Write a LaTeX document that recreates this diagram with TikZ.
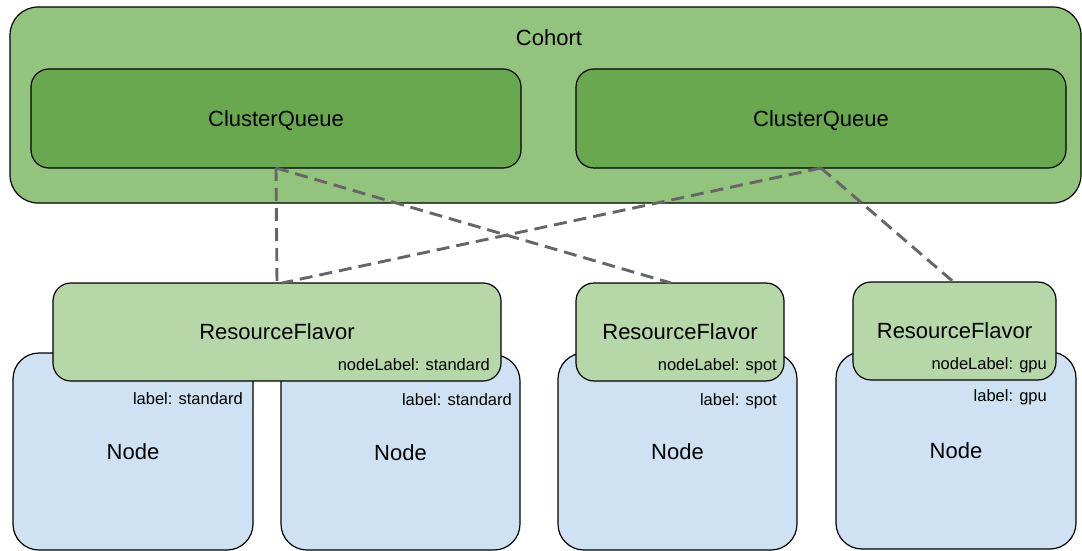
\documentclass[tikz,border=0pt]{standalone}
\usepackage{fontspec}
\setmainfont{Liberation Sans}

\definecolor{cohortgreen}{HTML}{93C47D}
\definecolor{queuegreen}{HTML}{6AA84F}
\definecolor{flavorgreen}{HTML}{B6D7A8}
\definecolor{nodeblue}{HTML}{CFE2F3}
\definecolor{linkgray}{HTML}{666666}

\begin{document}
\begin{tikzpicture}[x=1pt,y=-1pt,
  box/.style={draw=black, line width=1.2pt, inner sep=0pt, outer sep=0pt},
  cohortbox/.style={box, fill=cohortgreen, rounded corners=28pt},
  queuebox/.style={box, fill=queuegreen, rounded corners=18pt},
  flavorbox/.style={box, fill=flavorgreen, rounded corners=18pt},
  machine/.style={box, fill=nodeblue, rounded corners=26pt},
  bigtext/.style={font=\fontsize{22}{26}\selectfont, text depth=0pt},
  smalltext/.style={font=\fontsize{16.5}{20}\selectfont, inner sep=0pt, anchor=base east},
  link/.style={draw=linkgray, line width=2.9pt, dash pattern=on 13pt off 7pt}
]
\useasboundingbox (0,0) rectangle (1082,551);

% cohort with its two cluster queues
\node[cohortbox, minimum width=1071pt, minimum height=196pt] (cohort) at (545.5,105) {};
\node[bigtext] (cohortname) at (549,37.5) {Cohort};
\node[queuebox, bigtext, minimum width=490pt, minimum height=99pt] (cq1) at (276,118.5) {ClusterQueue};
\node[queuebox, bigtext, minimum width=490pt, minimum height=99pt] (cq2) at (821,118.5) {ClusterQueue};

% cluster nodes
\node[machine, bigtext, minimum width=240pt, minimum height=197pt] (n1) at (133,451.5) {Node};
\node[machine, bigtext, minimum width=239pt, minimum height=195pt] (n2) at (400.5,452.5) {Node};
\node[machine, bigtext, minimum width=239pt, minimum height=197pt] (n3) at (677.5,451.5) {Node};
\node[machine, bigtext, minimum width=240pt, minimum height=197pt] (n4) at (956,450.5) {Node};

% resource flavors
\node[flavorbox, bigtext, minimum width=448pt, minimum height=98pt] (rf1) at (277,332) {ResourceFlavor};
\node[flavorbox, bigtext, minimum width=208pt, minimum height=98pt] (rf2) at (680,332) {ResourceFlavor};
\node[flavorbox, bigtext, minimum width=203pt, minimum height=98pt] (rf3) at (954.5,331) {ResourceFlavor};

% flavor node labels
\node[smalltext] (rf1lbl) at (490,370) {nodeLabel: standard};
\node[smalltext] (rf2lbl) at (777,370) {nodeLabel: spot};
\node[smalltext] (rf3lbl) at (1047,369) {nodeLabel: gpu};

% node labels
\node[smalltext] (n1lbl) at (243,404) {label: standard};
\node[smalltext] (n2lbl) at (512,405) {label: standard};
\node[smalltext] (n3lbl) at (777,405) {label: spot};
\node[smalltext] (n4lbl) at (1047,401) {label: gpu};

% queue to flavor links
\draw[link] (cq1.south) -- (rf1.north);
\draw[link] (cq1.south) -- ([xshift=-9pt]rf2.north);
\draw[link] (cq2.south) -- ([xshift=5pt]rf1.north);
\draw[link] (cq2.south) -- ([xshift=-1pt]rf3.north);
\end{tikzpicture}
\end{document}
